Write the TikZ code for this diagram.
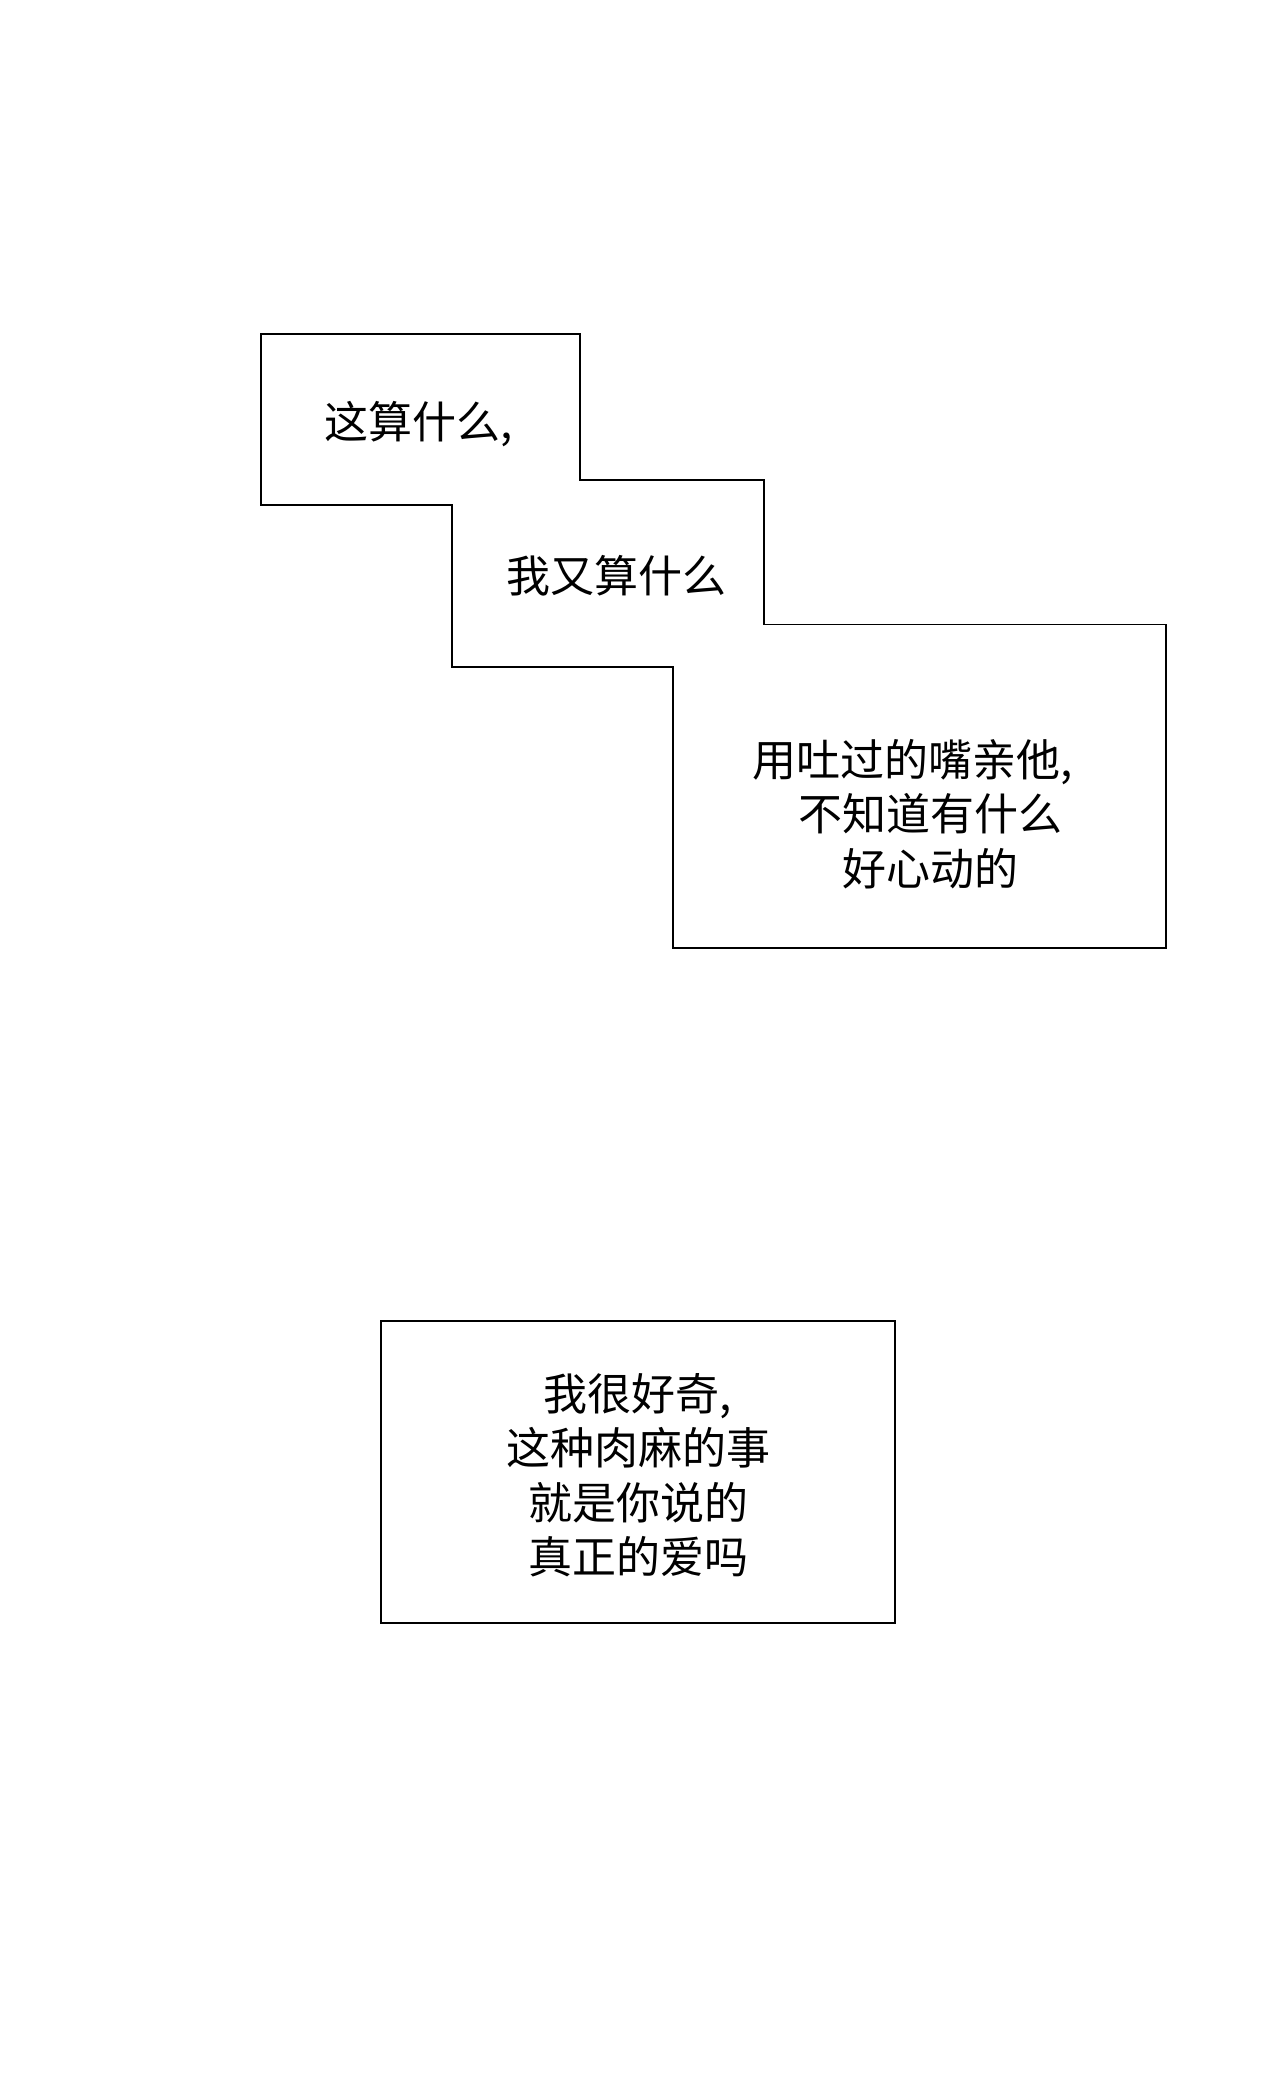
\documentclass[tikz,border=0pt]{standalone}
\usepackage{fontspec}
\newfontfamily\cjk{Noto Sans CJK SC}
\begin{document}
\begin{tikzpicture}[x=1pt,y=-1pt,
  frame/.style={draw=black,line width=1.7pt,line join=miter},
  speech/.style={inner sep=0pt,align=center,text=black,
    font=\cjk\fontsize{44}{54.5}\selectfont}]
\useasboundingbox[fill=white] (0,0) rectangle (1280,2075);
% stepped outline of the first three panels
\draw[frame] (261,334) -- (580,334) -- (580,480) -- (764,480) -- (764,624.5)
  -- (1166,624.5) -- (1166,948) -- (673,948) -- (673,667) -- (452,667)
  -- (452,504.7) -- (261,504.7) -- cycle;
% lower box
\draw[frame] (381,1321) rectangle (895,1623);
\node[speech] (t1) at (419,424) {这算什么,};
\node[speech] (t2) at (616.5,576) {我又算什么};
\node[speech] (t3) at (930,814) {用吐过的嘴亲他,\hspace*{34pt}\\不知道有什么\\好心动的};
\node[speech] (t4) at (638,1475) {我很好奇,\\这种肉麻的事\\就是你说的\\真正的爱吗};
\end{tikzpicture}
\end{document}
